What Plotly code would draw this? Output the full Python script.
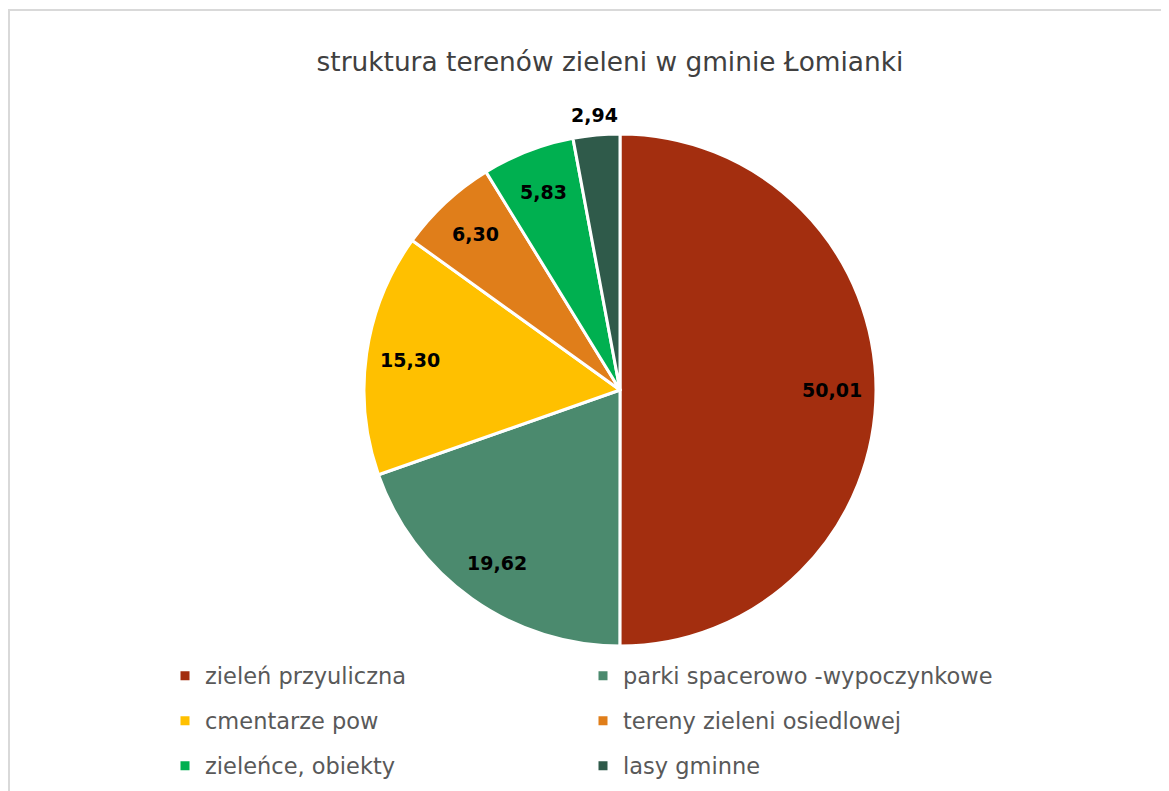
import math
import plotly.graph_objects as go

categories = ["zieleń przyuliczna", "parki spacerowo -wypoczynkowe", "cmentarze pow",
              "tereny zieleni osiedlowej", "zieleńce, obiekty", "lasy gminne"]
values = [50.01, 19.62, 15.30, 6.30, 5.83, 2.94]
colors = ["#A32E0F", "#4B8A6E", "#FFC000", "#E07E1A", "#00B050", "#2F5A4A"]
label_outside = [False, False, False, False, False, True]
legend_rows = ["legend", "legend", "legend2", "legend2", "legend3", "legend3"]

W, H = 1169, 791
OFF = 8  # page body margin
cx, cy, r = 620 - OFF, 390 - OFF, 256

FONT = "DejaVu Sans"

fig = go.Figure()
fig.add_trace(go.Pie(
    labels=categories, values=values, sort=False, direction="clockwise",
    marker=dict(colors=colors, line=dict(color="white", width=3)),
    textinfo="none", hoverinfo="label+value", automargin=False, showlegend=False,
))

# legend entries (square markers) for each category
for name, col, lg in zip(categories, colors, legend_rows):
    fig.add_trace(go.Scatter(x=[None], y=[None], mode="markers", name=name,
                             marker=dict(symbol="square", size=9, color=col),
                             legend=lg, showlegend=True, hoverinfo="skip"))

# data labels placed along slice mid-angles
total = sum(values)
annotations = []
cum = 0.0
for v, out in zip(values, label_outside):
    mid = (cum + v / 2) / total * 2 * math.pi
    cum += v
    k = 1.08 if out else 0.83
    annotations.append(dict(
        x=0.5 + 0.5 * k * math.sin(mid), y=0.5 + 0.5 * k * math.cos(mid),
        xref="paper", yref="paper", text=f"{v:.2f}".replace(".", ","), showarrow=False,
        xanchor="center", yanchor="middle",
        font=dict(family=FONT, size=19, color="black", weight="bold")))

def px_to_paper_x(px):
    return (px - OFF - (cx - r)) / (2 * r)

def px_to_paper_y(py):
    return ((cy + r) - (py - OFF)) / (2 * r)

legend_common = dict(orientation="h", xref="paper", yref="paper", xanchor="left",
                     yanchor="middle", entrywidth=373, entrywidthmode="pixels",
                     font=dict(family=FONT, size=22.5, color="#595959"),
                     bgcolor="rgba(0,0,0,0)", x=px_to_paper_x(165))

fig.update_layout(
    width=W, height=H,
    margin=dict(l=cx - r, r=W - (cx + r), t=cy - r, b=H - (cy + r)),
    paper_bgcolor="white", plot_bgcolor="white",
    xaxis=dict(visible=False), yaxis=dict(visible=False),
    title=dict(text="struktura terenów zieleni w gminie Łomianki", xref="container",
               x=(610 - OFF) / W, xanchor="center", yref="container",
               y=1 - (62 - OFF) / H, yanchor="middle",
               font=dict(family=FONT, size=26.4, color="#404040")),
    legend=dict(**legend_common, y=px_to_paper_y(676)),
    legend2=dict(**legend_common, y=px_to_paper_y(721)),
    legend3=dict(**legend_common, y=px_to_paper_y(766)),
    annotations=annotations,
    shapes=[dict(type="rect", xref="paper", yref="paper",
                 x0=px_to_paper_x(9), x1=px_to_paper_x(1190),
                 y0=px_to_paper_y(810), y1=px_to_paper_y(10),
                 line=dict(color="#D9D9D9", width=2), layer="below")],
)

fig.write_html("out.html")
